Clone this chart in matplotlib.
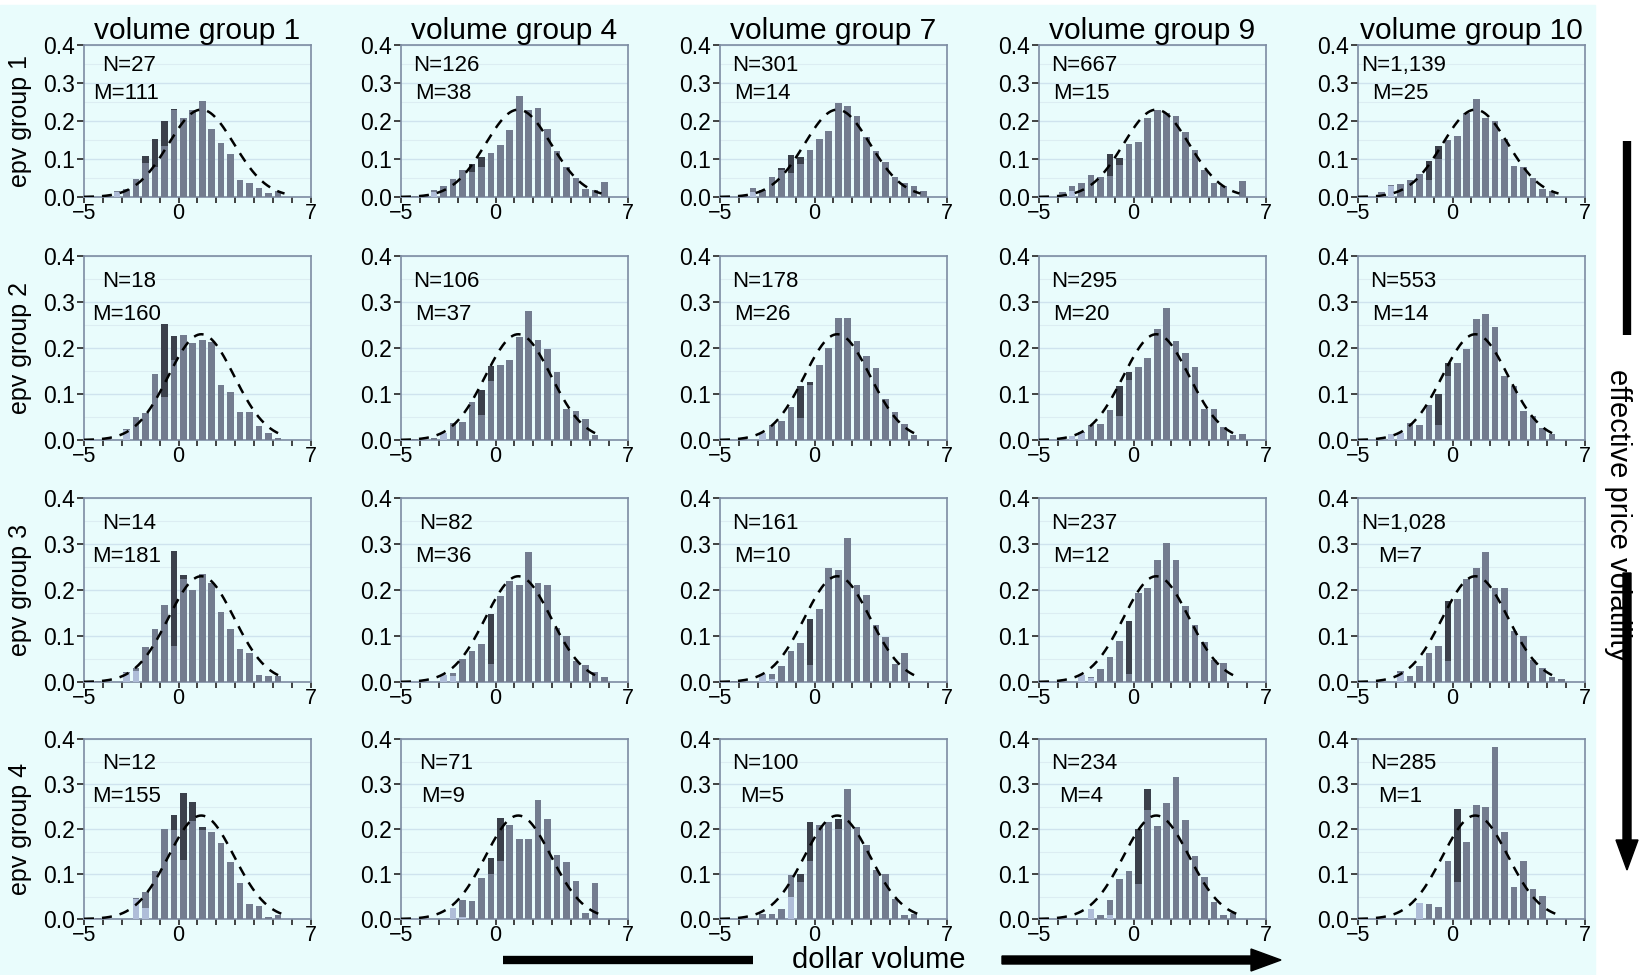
import numpy as np
import matplotlib
matplotlib.use("Agg")
import matplotlib.pyplot as plt
from matplotlib import font_manager
from matplotlib.patches import Rectangle, FancyArrow
from matplotlib.lines import Line2D

plt.rcParams['font.family'] = ['Liberation Sans', 'DejaVu Sans']
installed = {f.name for f in font_manager.fontManager.ttflist}
narrow = 'Liberation Sans Narrow' if 'Liberation Sans Narrow' in installed else None

# histogram bins (centres), 0.5 wide
bin_centers = [-4.75, -4.25, -3.75, -3.25, -2.75, -2.25, -1.75, -1.25, -0.75, -0.25,
               0.25, 0.75, 1.25, 1.75, 2.25, 2.75, 3.25, 3.75, 4.25, 4.75,
               5.25, 5.75, 6.25, 6.75]

vol_groups = [1, 4, 7, 9, 10]
epv_groups = [1, 2, 3, 4]

N_vals = [[27, 126, 301, 667, 1139],
          [18, 106, 178, 295, 553],
          [14, 82, 161, 237, 1028],
          [12, 71, 100, 234, 285]]
M_vals = [[111, 38, 14, 15, 25],
          [160, 37, 26, 20, 14],
          [181, 36, 10, 12, 7],
          [155, 9, 5, 4, 1]]

# main (gray) histogram per panel, row by row
gray = [
    [[.003, 0, .005, .015, .02, .047, .09, .08, .135, .228, .207, .228, .253, .18, .143, .112, .046, .036, .025, .01, .016, 0, 0, 0],
     [.002, .002, .005, .018, .03, .048, .07, .065, .08, .117, .137, .176, .265, .23, .235, .18, .122, .08, .05, .02, .018, .04, 0, 0],
     [.002, 0, .004, .025, .018, .053, .07, .063, .087, .123, .153, .175, .248, .24, .212, .157, .122, .092, .053, .038, .03, .015, 0, 0],
     [.002, 0, .013, .03, .037, .058, .053, .055, .083, .14, .145, .207, .228, .222, .212, .17, .125, .07, .038, .028, 0, .043, 0, 0],
     [.002, 0, .014, .032, .035, .045, .06, .045, .1, .15, .16, .22, .257, .207, .2, .153, .082, .08, .05, .022, .017, 0, 0, 0]],
    [[.002, 0, .003, 0, .025, .05, .058, .143, .093, .173, .228, .21, .218, .212, .12, .105, .06, .06, .03, .015, .005, 0, 0, 0],
     [.002, .002, 0, .005, .015, .038, .04, .083, .055, .128, .163, .175, .223, .28, .218, .197, .147, .067, .062, .045, .01, 0, 0, 0],
     [.002, 0, .005, 0, .015, .033, .042, .072, .048, .12, .163, .2, .265, .265, .215, .183, .157, .09, .06, .035, .01, 0, 0, 0],
     [.002, 0, .003, .008, .017, .032, .035, .065, .052, .13, .158, .178, .242, .287, .215, .19, .158, .068, .068, .028, .01, .012, 0, 0],
     [.002, 0, 0, .012, .015, .037, .033, .077, .032, .14, .167, .197, .262, .273, .245, .14, .118, .063, .053, .027, .012, 0, 0, 0]],
    [[.002, .002, 0, 0, .022, .03, .077, .115, .168, .078, .225, .2, .235, .215, .153, .115, .072, .063, .015, .013, .013, 0, 0, 0],
     [.002, 0, 0, 0, .015, .02, .05, .067, .083, .04, .188, .22, .21, .283, .216, .21, .117, .1, .045, .037, .022, .01, 0, 0],
     [.002, .003, 0, 0, .017, .017, .035, .067, .085, .038, .158, .248, .243, .313, .21, .19, .123, .098, .04, .063, 0, 0, 0, 0],
     [.002, 0, 0, 0, .015, .01, .028, .055, .09, .018, .193, .205, .265, .303, .265, .165, .123, .088, .048, .042, 0, 0, 0, 0],
     [.002, 0, 0, 0, .025, .013, .035, .063, .078, .045, .18, .225, .248, .283, .205, .205, .11, .1, .048, .03, .01, .007, 0, 0]],
    [[.002, .002, 0, 0, 0, .047, .06, .107, .2, .197, .132, .217, .197, .193, .17, .127, .08, .033, .03, .005, .008, 0, 0, 0],
     [.002, 0, 0, 0, 0, .025, .042, .04, .092, .1, .13, .21, .177, .178, .265, .222, .142, .127, .085, .013, .08, 0, 0, 0],
     [.002, 0, 0, 0, .012, .012, .023, .098, .082, .13, .21, .215, .2, .29, .205, .165, .11, .1, .045, .008, .012, 0, 0, 0],
     [.002, 0, 0, 0, 0, .022, .008, .043, .09, .107, .077, .243, .207, .258, .315, .22, .14, .093, .037, .008, .013, 0, 0, 0],
     [.002, 0, 0, 0, 0, 0, .035, .033, .027, .13, .083, .172, .253, .25, .382, .193, .072, .128, .067, .052, 0, 0, 0, 0]],
]

# dark histogram (shows where it is taller than gray): {bin index: height}
dark = [
    [{6: .108, 7: .153, 8: .2, 9: .232}, {7: .088, 8: .105}, {6: .077, 7: .11, 8: .105},
     {7: .113, 8: .103}, {7: .095, 8: .135}],
    [{8: .253, 9: .226}, {8: .108, 9: .16}, {8: .118, 9: .127}, {8: .117, 9: .147}, {8: .1, 9: .168}],
    [{9: .285, 10: .233}, {9: .147}, {9: .138}, {9: .132}, {9: .177}],
    [{9: .232, 10: .28, 11: .26, 12: .205}, {9: .135, 10: .225}, {8: .1, 9: .215, 12: .222},
     {10: .2, 11: .288}, {10: .245}],
]

# light histogram (drawn in front, visible where shorter than gray)
light = [
    [{3: .012}, {3: .012}, {3: .012}, {2: .008, 3: .017}, {2: .008, 3: .03}],
    [{4: .022}, {4: .015}, {4: .015}, {3: .008, 4: .015}, {3: .012, 4: .015}],
    [{4: .02, 5: .025}, {4: .015, 5: .012}, {4: .017, 5: .007}, {4: .015, 5: .008}, {4: .02}],
    [{5: .045, 6: .025}, {5: .025, 6: .005}, {7: .048}, {5: .022, 7: .01}, {6: .035}],
]

# fitted normal overlay
curve_mu = 1.2
curve_sigma = 1.735

bg = '#e9fcfc'
c_gray = '#737c8f'
c_dark = '#3b404b'
c_light = '#afbdd8'
c_frame = '#7d8ca2'

fig = plt.figure(figsize=(16.4, 9.75), dpi=100, facecolor='white')
fig.add_artist(Rectangle((0, 0), 1595 / 1640, 970 / 975, transform=fig.transFigure,
                         color=bg, zorder=-10))

W, H = 1640.0, 975.0
col_left = [84, 401, 720, 1039, 1358]
col_w = 227
row_top = [45, 256, 498, 739]
row_bot = [197, 440, 682, 919]

xs = np.linspace(-5, 5.6, 200)
pdf = np.exp(-0.5 * ((xs - curve_mu) / curve_sigma) ** 2) / (curve_sigma * np.sqrt(2 * np.pi))
centers = np.array(bin_centers)

for r in range(4):
    for c in range(5):
        ax = fig.add_axes([col_left[c] / W, 1 - row_bot[r] / H, col_w / W, (row_bot[r] - row_top[r]) / H])
        ax.set_facecolor(bg)
        g = np.array(gray[r][c])
        d = np.zeros(len(centers))
        for k, v in dark[r][c].items():
            d[k] = v
        lt = np.zeros(len(centers))
        for k, v in light[r][c].items():
            lt[k] = v
        ax.bar(centers, d, width=0.35, color=c_dark, zorder=2, linewidth=0)
        ax.bar(centers, g, width=0.35, color=c_gray, zorder=3, linewidth=0)
        ax.bar(centers, lt, width=0.35, color=c_light, zorder=4, linewidth=0)
        ax.plot(xs, pdf, color='black', lw=1.8, dashes=(4, 3.2), zorder=5)

        ax.set_xlim(-5, 7)
        ax.set_ylim(0, 0.4)
        ax.set_xticks(range(-5, 8))
        ax.set_xticklabels(['\u22125' if t == -5 else ('0' if t == 0 else ('7' if t == 7 else ''))
                            for t in range(-5, 8)])
        ax.set_yticks([0, 0.1, 0.2, 0.3, 0.4])
        ax.set_yticklabels(['0.0', '0.1', '0.2', '0.3', '0.4'])
        ax.set_yticks(np.arange(0.05, 0.4, 0.1), minor=True)
        ax.tick_params(axis='both', which='major', direction='out', length=5, width=1.3,
                       color='#333333', labelsize=16.5, pad=1.5)
        ax.tick_params(axis='x', which='major', labelsize=15.5, length=4, pad=0)
        ax.tick_params(axis='y', which='minor', length=0)
        ax.grid(axis='y', which='major', color='#cfe3ee', lw=1.0, zorder=0)
        ax.grid(axis='y', which='minor', color='#dcedf2', lw=0.8, zorder=0)
        ax.set_axisbelow(True)
        for sp in ax.spines.values():
            sp.set_color(c_frame)
            sp.set_linewidth(1.2)

        ax.text(-2.6, 0.345, 'N={:,}'.format(N_vals[r][c]), ha='center', va='center', fontsize=16)
        ax.text(-2.75, 0.272, 'M={}'.format(M_vals[r][c]), ha='center', va='center', fontsize=16)

        if r == 0:
            ax.set_title('volume group {}'.format(vol_groups[c]), fontsize=21.5, pad=2)
        if c == 0:
            yc = 1 - (row_top[r] + row_bot[r]) / 2 / H
            fig.text(20 / W, yc, 'epv group {}'.format(epv_groups[r]), rotation=90,
                     ha='center', va='center', fontsize=18)

# bottom axis annotation
tr = fig.dpi_scale_trans
fig.add_artist(Line2D([5.03, 7.53], [0.15, 0.15], lw=6, color='black', transform=tr,
                      solid_capstyle='butt'))
fig.add_artist(FancyArrow(10.02, 0.15, 2.79, 0, width=0.08, head_width=0.22, head_length=0.3,
                          length_includes_head=True, color='black', transform=tr))
fig.text(8.79 / 16.4, 0.15 / 9.75, 'dollar volume', ha='center', va='center', fontsize=21)

# right side annotation
fig.add_artist(Line2D([16.27, 16.27], [8.34, 6.40], lw=6, color='black', transform=tr,
                      solid_capstyle='butt'))
fig.add_artist(FancyArrow(16.27, 4.02, 0, -2.97, width=0.08, head_width=0.22, head_length=0.3,
                          length_includes_head=True, color='black', transform=tr))
if narrow:
    fig.text(16.18 / 16.4, 4.6 / 9.75, 'effective price volatility', rotation=-90,
             ha='center', va='center', fontsize=25, family=[narrow, 'Liberation Sans'])
else:
    fig.text(16.18 / 16.4, 4.6 / 9.75, 'effective price volatility', rotation=-90,
             ha='center', va='center', fontsize=21)

fig.savefig('out.png', dpi=100, facecolor=fig.get_facecolor())
